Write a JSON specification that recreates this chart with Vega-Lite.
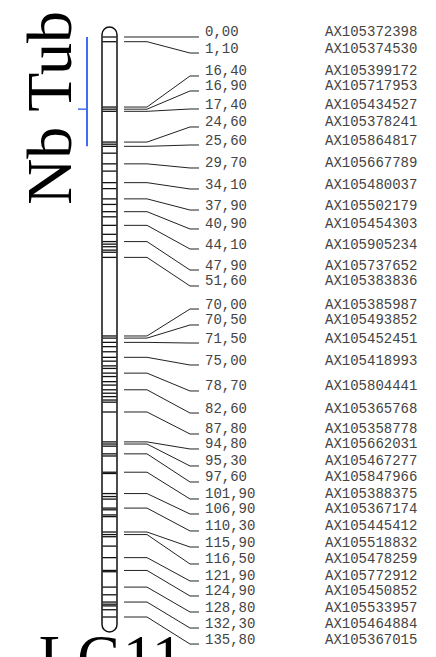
{
  "$schema": "https://vega.github.io/schema/vega-lite/v6.json",
  "width": 436,
  "height": 657,
  "padding": 0,
  "autosize": {"type": "none"},
  "background": "white",
  "config": {"view": {"stroke": null}, "axis": {"disable": true}},
  "datasets": {
    "markers": [
      {"cM": 0.0, "pos": 0.0, "dist": "0,00", "marker": "AX105372398"},
      {"cM": 1.1, "pos": 3.75, "dist": "1,10", "marker": "AX105374530"},
      {"cM": 16.4, "pos": 9.13, "dist": "16,40", "marker": "AX105399172"},
      {"cM": 16.9, "pos": 12.64, "dist": "16,90", "marker": "AX105717953"},
      {"cM": 17.4, "pos": 16.86, "dist": "17,40", "marker": "AX105434527"},
      {"cM": 24.6, "pos": 21.07, "dist": "24,60", "marker": "AX105378241"},
      {"cM": 25.6, "pos": 25.29, "dist": "25,60", "marker": "AX105864817"},
      {"cM": 29.7, "pos": 30.67, "dist": "29,70", "marker": "AX105667789"},
      {"cM": 34.1, "pos": 35.59, "dist": "34,10", "marker": "AX105480037"},
      {"cM": 37.9, "pos": 40.51, "dist": "37,90", "marker": "AX105502179"},
      {"cM": 40.9, "pos": 44.95, "dist": "40,90", "marker": "AX105454303"},
      {"cM": 44.1, "pos": 49.64, "dist": "44,10", "marker": "AX105905234"},
      {"cM": 47.9, "pos": 54.56, "dist": "47,90", "marker": "AX105737652"},
      {"cM": 51.6, "pos": 58.3, "dist": "51,60", "marker": "AX105383836"},
      {"cM": 70.0, "pos": 63.69, "dist": "70,00", "marker": "AX105385987"},
      {"cM": 70.5, "pos": 67.43, "dist": "70,50", "marker": "AX105493852"},
      {"cM": 71.5, "pos": 71.65, "dist": "71,50", "marker": "AX105452451"},
      {"cM": 75.0, "pos": 76.8, "dist": "75,00", "marker": "AX105418993"},
      {"cM": 78.7, "pos": 82.88, "dist": "78,70", "marker": "AX105804441"},
      {"cM": 82.6, "pos": 88.04, "dist": "82,60", "marker": "AX105365768"},
      {"cM": 87.8, "pos": 92.95, "dist": "87,80", "marker": "AX105358778"},
      {"cM": 94.8, "pos": 96.46, "dist": "94,80", "marker": "AX105662031"},
      {"cM": 95.3, "pos": 100.44, "dist": "95,30", "marker": "AX105467277"},
      {"cM": 97.6, "pos": 104.19, "dist": "97,60", "marker": "AX105847966"},
      {"cM": 101.9, "pos": 108.17, "dist": "101,90", "marker": "AX105388375"},
      {"cM": 106.9, "pos": 111.68, "dist": "106,90", "marker": "AX105367174"},
      {"cM": 110.3, "pos": 115.66, "dist": "110,30", "marker": "AX105445412"},
      {"cM": 115.9, "pos": 119.41, "dist": "115,90", "marker": "AX105518832"},
      {"cM": 116.5, "pos": 123.39, "dist": "116,50", "marker": "AX105478259"},
      {"cM": 121.9, "pos": 127.37, "dist": "121,90", "marker": "AX105772912"},
      {"cM": 124.9, "pos": 130.88, "dist": "124,90", "marker": "AX105450852"},
      {"cM": 128.8, "pos": 134.63, "dist": "128,80", "marker": "AX105533957"},
      {"cM": 132.3, "pos": 138.38, "dist": "132,30", "marker": "AX105464884"},
      {"cM": 135.8, "pos": 142.13, "dist": "135,80", "marker": "AX105367015"}
    ],
    "bands": [
      {"cM": 0}, {"cM": 1.1}, {"cM": 16.4}, {"cM": 16.9}, {"cM": 17.4},
      {"cM": 24.6}, {"cM": 25.1}, {"cM": 25.6}, {"cM": 27.2}, {"cM": 29.7},
      {"cM": 31.4}, {"cM": 34.1}, {"cM": 35.5}, {"cM": 37.9}, {"cM": 39.2},
      {"cM": 40.9}, {"cM": 42.1}, {"cM": 44.1}, {"cM": 46.2}, {"cM": 47.9},
      {"cM": 48.5}, {"cM": 49.1}, {"cM": 49.9}, {"cM": 50.4}, {"cM": 51.6},
      {"cM": 70.0}, {"cM": 70.5}, {"cM": 71.5}, {"cM": 72.5}, {"cM": 73.7},
      {"cM": 75.0}, {"cM": 75.9}, {"cM": 77.0}, {"cM": 77.6}, {"cM": 78.7},
      {"cM": 79.5}, {"cM": 80.7}, {"cM": 81.5}, {"cM": 82.6}, {"cM": 83.4},
      {"cM": 84.2}, {"cM": 85.0}, {"cM": 85.5}, {"cM": 87.8},
      {"cM": 94.8}, {"cM": 95.3}, {"cM": 95.8}, {"cM": 97.6}, {"cM": 98.1},
      {"cM": 101.9}, {"cM": 102.2}, {"cM": 106.9}, {"cM": 107.6}, {"cM": 108.2},
      {"cM": 110.3}, {"cM": 110.7}, {"cM": 111.9}, {"cM": 112.3}, {"cM": 115.9},
      {"cM": 116.5}, {"cM": 117.0}, {"cM": 119.2}, {"cM": 121.9}, {"cM": 124.9},
      {"cM": 125.2}, {"cM": 128.8}, {"cM": 130.6}, {"cM": 132.3}, {"cM": 132.8},
      {"cM": 133.2}, {"cM": 134.1}, {"cM": 135.8}
    ],
    "qtl": [{"trait": "Nb Tub", "start": 0, "end": 25.6, "peak": 16.9, "mid": 16.6}],
    "chrom": [{"lg": "LG11", "start": 0, "end": 135.8, "title": 150.3}]
  },
  "layer": [
    {
      "data": {"name": "chrom"},
      "mark": {"type": "rect", "fill": "white", "stroke": "#111", "strokeWidth": 1.5, "cornerRadius": 7.5, "yOffset": -10, "y2Offset": 15},
      "encoding": {
        "x": {"datum": 102, "type": "quantitative", "scale": {"domain": [0, 436], "nice": false, "zero": false}, "axis": null},
        "x2": {"datum": 117},
        "y": {"field": "start", "type": "quantitative", "scale": {"domain": [-8.663, 145.165], "reverse": true, "nice": false, "zero": false}, "axis": null},
        "y2": {"field": "end"}
      }
    },
    {
      "data": {"name": "bands"},
      "mark": {"type": "rule", "stroke": "#111", "strokeWidth": 1.3},
      "encoding": {
        "x": {"datum": 102.5, "type": "quantitative"},
        "x2": {"datum": 116.5},
        "y": {"field": "cM", "type": "quantitative"}
      }
    },
    {
      "data": {"name": "markers"},
      "mark": {"type": "rule", "stroke": "#222", "strokeWidth": 1},
      "encoding": {
        "x": {"datum": 124, "type": "quantitative"},
        "x2": {"datum": 147},
        "y": {"field": "cM", "type": "quantitative"}
      }
    },
    {
      "data": {"name": "markers"},
      "mark": {"type": "rule", "stroke": "#222", "strokeWidth": 1},
      "encoding": {
        "x": {"datum": 147, "type": "quantitative"},
        "x2": {"datum": 190},
        "y": {"field": "cM", "type": "quantitative"},
        "y2": {"field": "pos"}
      }
    },
    {
      "data": {"name": "markers"},
      "mark": {"type": "rule", "stroke": "#222", "strokeWidth": 1},
      "encoding": {
        "x": {"datum": 190, "type": "quantitative"},
        "x2": {"datum": 199},
        "y": {"field": "pos", "type": "quantitative"}
      }
    },
    {
      "data": {"name": "markers"},
      "mark": {"type": "text", "align": "left", "baseline": "alphabetic", "font": "Liberation Mono", "fontSize": 14, "fill": "#444", "dy": -0.5},
      "encoding": {
        "x": {"datum": 205, "type": "quantitative"},
        "y": {"field": "pos", "type": "quantitative"},
        "text": {"field": "dist"}
      }
    },
    {
      "data": {"name": "markers"},
      "mark": {"type": "text", "align": "left", "baseline": "alphabetic", "font": "Liberation Mono", "fontSize": 14, "fill": "#444", "dy": -0.5},
      "encoding": {
        "x": {"datum": 325, "type": "quantitative"},
        "y": {"field": "pos", "type": "quantitative"},
        "text": {"field": "marker"}
      }
    },
    {
      "data": {"name": "qtl"},
      "mark": {"type": "rule", "stroke": "#3f6ef0", "strokeWidth": 2},
      "encoding": {
        "x": {"datum": 87, "type": "quantitative"},
        "y": {"field": "start", "type": "quantitative"},
        "y2": {"field": "end"}
      }
    },
    {
      "data": {"name": "qtl"},
      "mark": {"type": "rule", "stroke": "#3f6ef0", "strokeWidth": 1.5},
      "encoding": {
        "x": {"datum": 78, "type": "quantitative"},
        "x2": {"datum": 87},
        "y": {"field": "peak", "type": "quantitative"}
      }
    },
    {
      "data": {"name": "qtl"},
      "mark": {"type": "text", "align": "center", "baseline": "alphabetic", "angle": 270, "font": "Liberation Serif", "fontSize": 64, "fill": "#000"},
      "encoding": {
        "x": {"datum": 71, "type": "quantitative"},
        "y": {"field": "mid", "type": "quantitative"},
        "text": {"field": "trait"}
      }
    },
    {
      "data": {"name": "chrom"},
      "mark": {"type": "text", "align": "center", "baseline": "alphabetic", "font": "Liberation Serif", "fontSize": 63, "fill": "#000"},
      "encoding": {
        "x": {"datum": 111, "type": "quantitative"},
        "y": {"field": "title", "type": "quantitative"},
        "text": {"field": "lg"}
      }
    }
  ]
}
